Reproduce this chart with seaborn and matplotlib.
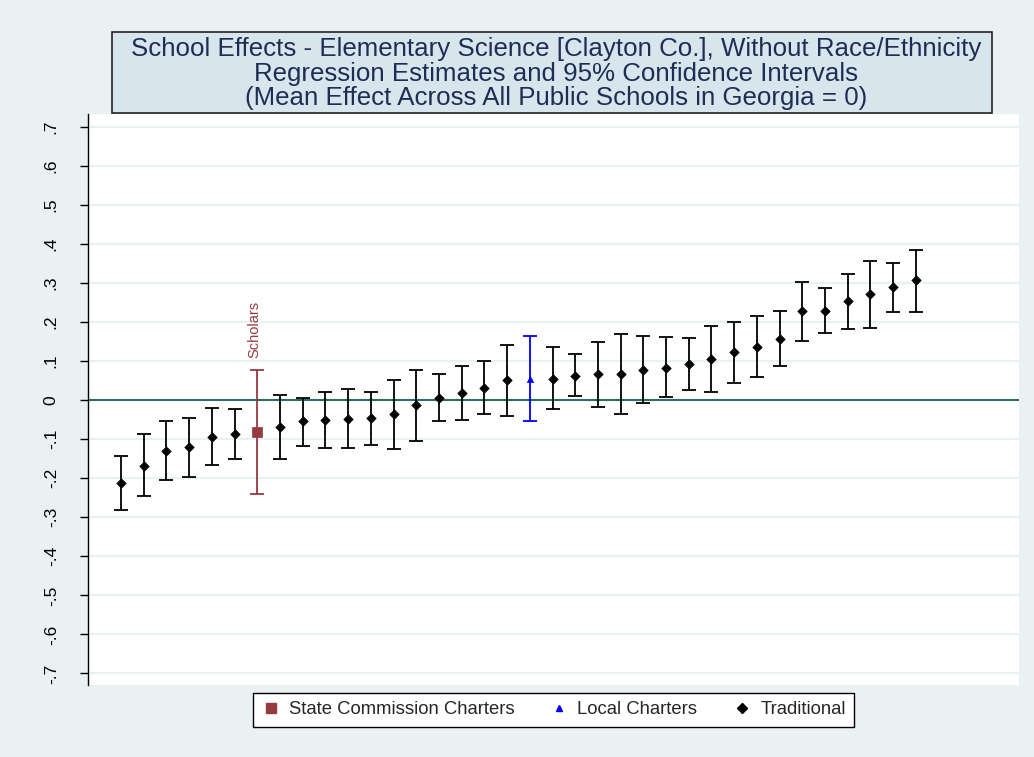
import numpy as np
import pandas as pd
import matplotlib
matplotlib.use("Agg")
import matplotlib.pyplot as plt
from matplotlib.patches import Rectangle
from matplotlib.lines import Line2D
import seaborn as sns

# ---------------- data ----------------
estimates = [-0.212, -0.168, -0.130, -0.121, -0.094, -0.087, -0.081, -0.070, -0.055,
             -0.050, -0.048, -0.047, -0.037, -0.013, 0.006, 0.017, 0.031, 0.051,
             0.054, 0.055, 0.062, 0.066, 0.067, 0.078, 0.083, 0.091, 0.105, 0.122,
             0.136, 0.156, 0.227, 0.229, 0.253, 0.271, 0.288, 0.306]
ci_low = [-0.282, -0.247, -0.205, -0.196, -0.166, -0.151, -0.240, -0.150, -0.118,
          -0.124, -0.124, -0.115, -0.126, -0.105, -0.053, -0.051, -0.035, -0.040,
          -0.054, -0.024, 0.009, -0.018, -0.037, -0.007, 0.007, 0.025, 0.020, 0.044,
          0.058, 0.088, 0.151, 0.171, 0.182, 0.184, 0.225, 0.225]
ci_high = [-0.144, -0.086, -0.055, -0.045, -0.020, -0.022, 0.078, 0.012, 0.006,
           0.021, 0.029, 0.020, 0.052, 0.077, 0.067, 0.086, 0.099, 0.142,
           0.164, 0.136, 0.117, 0.149, 0.170, 0.164, 0.160, 0.158, 0.190, 0.200,
           0.214, 0.228, 0.302, 0.287, 0.323, 0.357, 0.350, 0.385]
school_types = ["Traditional"] * 36
school_types[6] = "State Commission Charters"
school_types[18] = "Local Charters"
school_labels = [""] * 36
school_labels[6] = "Scholars"

type_order = ["State Commission Charters", "Local Charters", "Traditional"]
yticks = [-0.7, -0.6, -0.5, -0.4, -0.3, -0.2, -0.1, 0.0, 0.1, 0.2, 0.3, 0.4, 0.5, 0.6, 0.7]
ytick_labels = ["-.7", "-.6", "-.5", "-.4", "-.3", "-.2", "-.1", "0",
                ".1", ".2", ".3", ".4", ".5", ".6", ".7"]
title_text = ("School Effects - Elementary Science [Clayton Co.], Without Race/Ethnicity\n"
              "Regression Estimates and 95% Confidence Intervals\n"
              "(Mean Effect Across All Public Schools in Georgia = 0)")

df = pd.DataFrame({
    "rank": np.arange(1, len(estimates) + 1),
    "estimate": estimates,
    "lo": ci_low,
    "hi": ci_high,
    "type": school_types,
    "label": school_labels,
})

# ---------------- style ----------------
sns.set_theme(style="white")
plt.rcParams["font.family"] = ["Liberation Sans", "DejaVu Sans"]

colors = {"State Commission Charters": "#953A3F", "Local Charters": "#0000FF", "Traditional": "#000000"}
markers = {"State Commission Charters": "s", "Local Charters": "^", "Traditional": "D"}
sizes = {"State Commission Charters": 50, "Local Charters": 20, "Traditional": 23}

bg = "#E9F1F3"
fig = plt.figure(figsize=(10.34, 7.57), dpi=100)
fig.patch.set_facecolor(bg)
ax = fig.add_axes([88 / 1034, 1 - 685 / 757, (1019 - 88) / 1034, (685 - 114) / 757])
ax.set_facecolor("white")

# grid & zero line
for t in yticks:
    ax.axhline(t, color="#EAF1F3", lw=1.6, zorder=0)
ax.axhline(0, color="#2F6F63", lw=1.5, zorder=1)

# confidence intervals
for t in type_order:
    sub = df[df["type"] == t]
    ax.errorbar(sub["rank"], sub["estimate"],
                yerr=[sub["estimate"] - sub["lo"], sub["hi"] - sub["estimate"]],
                fmt="none", ecolor=colors[t], elinewidth=1.3, capsize=5, capthick=1.3, zorder=2)

# points
for t in type_order:
    sub = df[df["type"] == t]
    sns.scatterplot(data=sub, x="rank", y="estimate", color=colors[t], marker=markers[t],
                    s=sizes[t], edgecolor=colors[t], linewidth=0.5, ax=ax, zorder=3, legend=False)

# labels
for _, r in df[df["label"] != ""].iterrows():
    ax.annotate(r["label"], (r["rank"], r["hi"]), xytext=(-2, 8), textcoords="offset points",
                rotation=90, ha="center", va="bottom", fontsize=10.5, color=colors[r["type"]])

ax.set_xlim(-0.453, 40.54)
ax.set_ylim(-0.7295, 0.732)
ax.set_xticks([])
ax.set_yticks(yticks)
ax.set_yticklabels(ytick_labels, rotation=90, va="center", fontsize=12.5, color="black")
ax.tick_params(axis="y", direction="out", length=6, width=1, color="black", left=True, pad=15)
ax.set_xlabel("")
ax.set_ylabel("")
for s in ["top", "right", "bottom"]:
    ax.spines[s].set_visible(False)
ax.spines["left"].set_color("black")
ax.spines["left"].set_linewidth(1)

# title box
fig.patches.append(Rectangle((112 / 1034, 1 - 113 / 757), 880 / 1034, 81 / 757,
                             transform=fig.transFigure, facecolor="#D8E5EC",
                             edgecolor="#222222", lw=1.2, zorder=1))
fig.text(556 / 1034, 1 - 73.5 / 757, title_text, ha="center", va="center",
         fontsize=18.65, color="#1F2D55", linespacing=1.03, zorder=2)

# legend
handles = [Line2D([0], [0], linestyle="none", marker=markers[t], color=colors[t],
                  markersize={"State Commission Charters": 7, "Local Charters": 4.5, "Traditional": 5}[t])
           for t in type_order]
leg = fig.legend(handles, type_order, loc="center", bbox_to_anchor=(553.5 / 1034, 1 - 710 / 757),
                 ncol=3, frameon=True, fancybox=False, fontsize=13.3, handlelength=1.0,
                 handletextpad=0.5, columnspacing=1.9, borderpad=0.45)
leg.get_frame().set_edgecolor("black")
leg.get_frame().set_linewidth(1)
leg.get_frame().set_facecolor("white")
leg.get_frame().set_alpha(1)

fig.savefig("out.png", dpi=100, facecolor=bg)
